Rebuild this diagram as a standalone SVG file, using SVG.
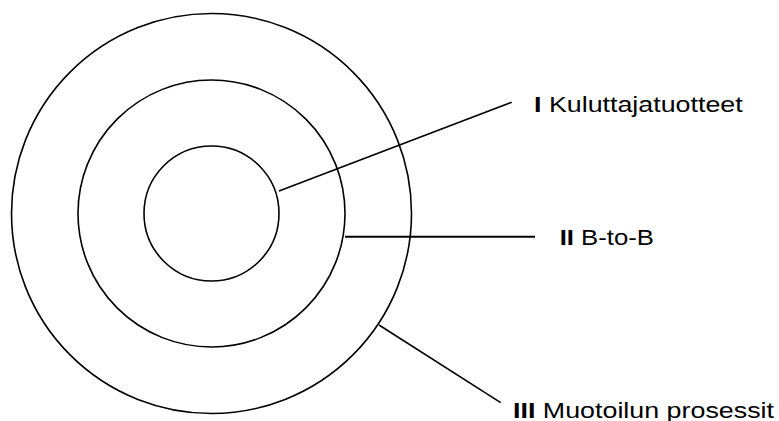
<svg xmlns="http://www.w3.org/2000/svg" width="779" height="421" viewBox="0 0 779 421">
<style>
.ring{fill:none;stroke:#000;stroke-width:1.6}
.conn{stroke:#000;stroke-width:1.6;fill:none}
.lbl{font-family:"Liberation Sans",Arial,sans-serif;font-size:22px;fill:#000}
.b{font-weight:bold}
</style>
<rect width="779" height="421" fill="#fff"/>
<g id="ring-III"><circle class="ring" cx="211.5" cy="213.5" r="200"/></g>
<g id="ring-II"><circle class="ring" cx="211.5" cy="213.5" r="133.5"/></g>
<g id="ring-I"><circle class="ring" cx="211.5" cy="213.5" r="67.5"/></g>
<g id="connectors">
<line class="conn" x1="279" y1="191" x2="511.7" y2="102.3"/>
<line class="conn" x1="345" y1="236.7" x2="535" y2="236.7" style="stroke-width:2"/>
<line class="conn" x1="379" y1="325" x2="500.7" y2="402.7"/>
</g>
<g id="label-I"><text class="lbl" x="534" y="112" textLength="208.7" lengthAdjust="spacingAndGlyphs"><tspan class="b">I</tspan> Kuluttajatuotteet</text></g>
<g id="label-II"><text class="lbl" x="559.7" y="245" textLength="94.3" lengthAdjust="spacingAndGlyphs"><tspan class="b">II</tspan> B-to-B</text></g>
<g id="label-III"><text class="lbl" x="513" y="417.5" textLength="261" lengthAdjust="spacingAndGlyphs"><tspan class="b">III</tspan> Muotoilun prosessit</text></g>
</svg>
